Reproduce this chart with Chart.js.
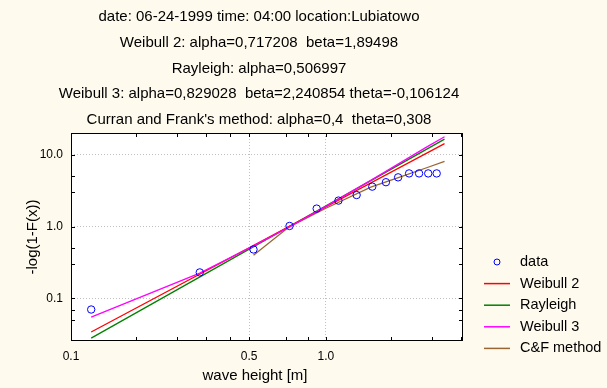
<!DOCTYPE html>
<html>
<head>
<meta charset="utf-8">
<script src="https://cdn.jsdelivr.net/npm/chart.js@4"></script>
<style>
  html, body { margin: 0; padding: 0; background: #fefaee; }
  #wrap { width: 607px; height: 388px; }
</style>
</head>
<body>
<div id="wrap"><canvas id="chart" width="607" height="388"></canvas></div>
<script>
// ===== DATA =====

const titleLines = [
    "date: 06-24-1999 time: 04:00 location:Lubiatowo",
    "Weibull 2: alpha=0,717208  beta=1,89498",
    "Rayleigh: alpha=0,506997",
    "Weibull 3: alpha=0,829028  beta=2,240854 theta=-0,106124",
    "Curran and Frank's method: alpha=0,4  theta=0,308"
];
const xTitle = "wave height [m]";
const yTitle = "-log(1-F(x))";

const waveHeight = [0.12, 0.32, 0.52, 0.72, 0.92, 1.12, 1.32, 1.52, 1.72, 1.92, 2.12, 2.32, 2.52, 2.72];
const observed   = [0.07, 0.23, 0.48, 1.02, 1.78, 2.3, 2.75, 3.6, 4.15, 4.85, 5.5, 5.5, 5.5, 5.5];

const weibull2X = [0.12, 2.92];
const weibull2Y = [0.034, 14.3];

const rayleighX = [0.12, 2.92];
const rayleighY = [0.028, 16.5];

const weibull3X = [0.12, 0.32, 0.5, 0.72, 1.0, 1.5, 2.0, 2.5, 2.92];
const weibull3Y = [0.055, 0.225, 0.50, 0.99, 1.91, 4.4, 8.1, 13.0, 17.8];

const cfX = [0.52, 0.72, 1.0, 1.5, 2.0, 2.5, 2.92];
const cfY = [0.40, 1.0, 1.8, 3.55, 5.05, 6.65, 8.1];

const xMajor = [0.1, 0.5, 1.0];
const xMajorLabels = ["0.1", "0.5", "1.0"];
const xMinor = [0.18, 0.26, 0.34, 0.42, 0.7, 0.85, 1.8, 2.6, 3.4];

const yMajor = [0.1, 1.0, 10.0];
const yMajorLabels = ["0.1", "1.0", "10.0"];
const yMinor = [0.05, 0.07, 0.3, 0.5, 3, 5];

// ===== HELPERS =====

const FONT = "'Liberation Sans', Arial, sans-serif";

function pairs(xs, ys) {
    return xs.map((x, i) => ({ x: x, y: ys[i] }));
}

function tickList(major, minor) {
    return major.map(v => ({ value: v, major: true }))
        .concat(minor.map(v => ({ value: v, major: false })))
        .sort((a, b) => a.value - b.value);
}

function labelFor(major, labels) {
    return function (value) {
        const i = major.findIndex(v => Math.abs(v - value) < 1e-9);
        return i >= 0 ? labels[i] : "";
    };
}

// ===== PLUGINS =====

const paperPlugin = {
    id: "paper",
    beforeDraw(chart) {
        const { ctx, chartArea: a } = chart;
        ctx.save();
        ctx.fillStyle = "#fefaee";
        ctx.fillRect(0, 0, chart.width, chart.height);
        ctx.fillStyle = "#ffffff";
        ctx.fillRect(a.left, a.top, a.right - a.left, a.bottom - a.top);
        ctx.restore();
    },
    afterDraw(chart) {
        const { ctx, chartArea: a, scales } = chart;
        ctx.save();
        ctx.strokeStyle = "#000";
        ctx.lineWidth = 1;
        ctx.strokeRect(a.left + 0.5, a.top + 0.5, a.right - a.left - 1, a.bottom - a.top - 1);
        // inward tick marks on all four sides
        const len = 4;
        ctx.beginPath();
        scales.x.ticks.forEach(t => {
            const px = Math.round(scales.x.getPixelForValue(t.value)) + 0.5;
            ctx.moveTo(px, a.bottom); ctx.lineTo(px, a.bottom - len);
            ctx.moveTo(px, a.top); ctx.lineTo(px, a.top + len);
        });
        scales.y.ticks.forEach(t => {
            const py = Math.round(scales.y.getPixelForValue(t.value)) + 0.5;
            ctx.moveTo(a.left, py); ctx.lineTo(a.left + len, py);
            ctx.moveTo(a.right, py); ctx.lineTo(a.right - len, py);
        });
        ctx.stroke();

        // x axis title, a little left of the plot centre as in the reference
        ctx.fillStyle = "#000";
        ctx.font = "15px " + FONT;
        ctx.textAlign = "center";
        ctx.textBaseline = "middle";
        ctx.fillText(xTitle, a.left + 184, 376);

        // legend
        const lx = a.right + 21;
        const tx = a.right + 57;
        let ly = a.bottom - 79;
        ctx.font = "14.5px " + FONT;
        ctx.textAlign = "left";
        chart.data.datasets.forEach(ds => {
            ctx.strokeStyle = ds.borderColor;
            ctx.beginPath();
            if (ds.showLine === false) {
                ctx.lineWidth = 1;
                ctx.arc(lx + 13, ly, 3, 0, Math.PI * 2);
            } else {
                ctx.lineWidth = 1.5;
                ctx.moveTo(lx, ly); ctx.lineTo(lx + 26, ly);
            }
            ctx.stroke();
            ctx.fillStyle = "#000";
            ctx.fillText(ds.label, tx, ly);
            ly += 21.6;
        });
        ctx.restore();
    }
};

// ===== CHART =====

const lineStyle = {
    showLine: true,
    pointRadius: 0,
    borderWidth: 1.3,
    fill: false
};

new Chart(document.getElementById("chart"), {
    type: "scatter",
    data: {
        datasets: [
            {
                label: "data",
                data: pairs(waveHeight, observed),
                showLine: false,
                pointStyle: "circle",
                pointRadius: 3.7,
                borderWidth: 1,
                borderColor: "#0000ff",
                backgroundColor: "rgba(0,0,0,0)",
                order: 0
            },
            Object.assign({ label: "Weibull 2", data: pairs(weibull2X, weibull2Y), borderColor: "#ff0000", order: 2 }, lineStyle),
            Object.assign({ label: "Rayleigh", data: pairs(rayleighX, rayleighY), borderColor: "#008000", order: 3 }, lineStyle),
            Object.assign({ label: "Weibull 3", data: pairs(weibull3X, weibull3Y), borderColor: "#ff00ff", order: 1 }, lineStyle),
            Object.assign({ label: "C&F method", data: pairs(cfX, cfY), borderColor: "#996633", order: 4 }, lineStyle)
        ]
    },
    options: {
        responsive: false,
        animation: false,
        layout: { padding: { left: 0, right: 89, top: 0, bottom: 0 } },
        plugins: {
            legend: { display: false },
            tooltip: { enabled: false },
            title: {
                display: true,
                text: titleLines,
                color: "#000",
                font: { family: FONT, size: 15, weight: "normal", lineHeight: 1.72 },
                padding: { top: 4, bottom: 0 }
            }
        },
        scales: {
            x: {
                type: "logarithmic",
                position: "bottom",
                min: 0.1,
                max: 3.45,
                afterBuildTicks: s => { s.ticks = tickList(xMajor, xMinor); },
                afterFit: s => { s.height = 47; },
                ticks: {
                    autoSkip: false,
                    maxRotation: 0,
                    padding: 8,
                    color: "#000",
                    font: { family: FONT, size: 12 },
                    callback: labelFor(xMajor, xMajorLabels)
                },
                grid: {
                    drawTicks: false,
                    lineWidth: 1,
                    color: c => (c.tick && c.tick.major) ? "#c0c0c0" : "rgba(0,0,0,0)"
                },
                border: { display: false, dash: [1, 2] }
            },
            y: {
                type: "logarithmic",
                position: "left",
                min: 0.0255,
                max: 20.1,
                afterBuildTicks: s => { s.ticks = tickList(yMajor, yMinor); },
                afterFit: s => { s.width = 71; },
                ticks: {
                    autoSkip: false,
                    padding: 8,
                    color: "#000",
                    font: { family: FONT, size: 12 },
                    callback: labelFor(yMajor, yMajorLabels)
                },
                grid: {
                    drawTicks: false,
                    lineWidth: 1,
                    color: c => (c.tick && c.tick.major) ? "#c0c0c0" : "rgba(0,0,0,0)"
                },
                border: { display: false, dash: [1, 2] },
                title: {
                    display: true,
                    text: yTitle,
                    color: "#000",
                    font: { family: FONT, size: 15 },
                    padding: { top: 24, bottom: 0 }
                }
            },
            // spacer on the right so the plot box ends where the reference does
            y2: {
                type: "logarithmic",
                position: "right",
                display: true,
                min: 0.0255,
                max: 20.1,
                afterFit: s => { s.width = 55; },
                ticks: { display: false },
                grid: { display: false, drawOnChartArea: false },
                border: { display: false }
            }
        }
    },
    plugins: [paperPlugin]
});
</script>
</body>
</html>
